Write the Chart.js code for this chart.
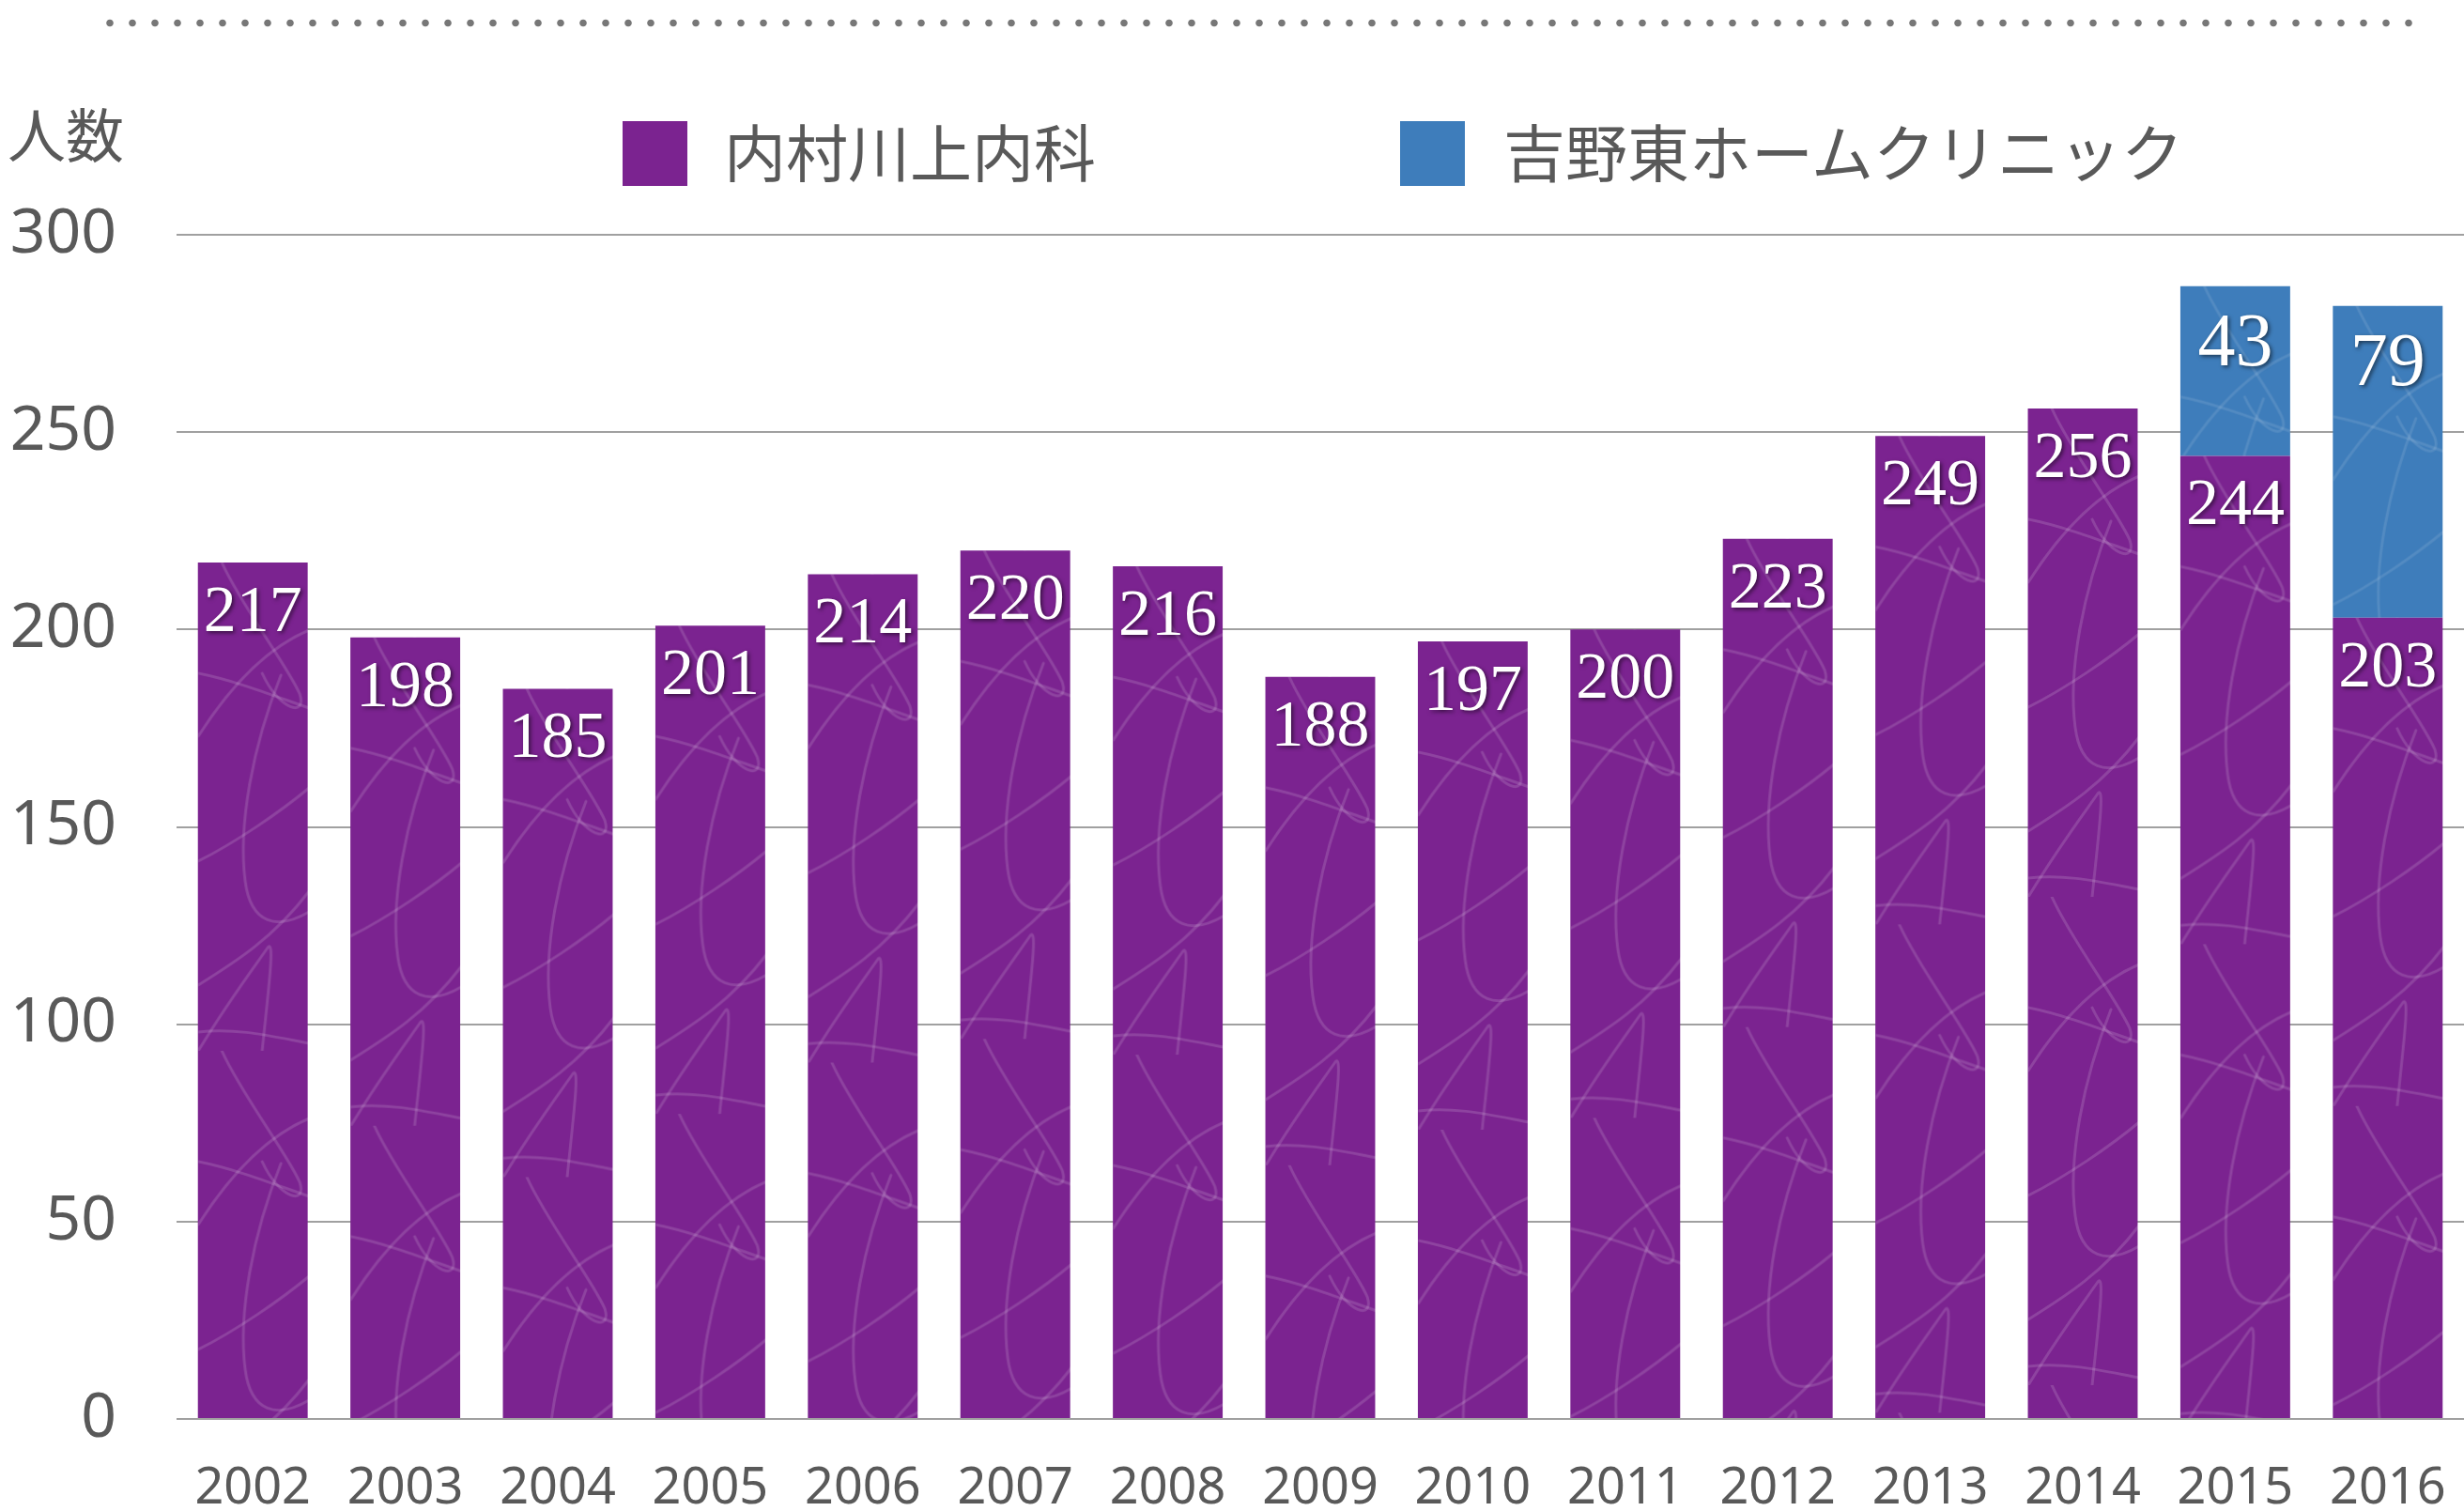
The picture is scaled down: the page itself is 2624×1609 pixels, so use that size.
<!DOCTYPE html>
<html>
<head>
<meta charset="utf-8">
<script src="https://cdn.jsdelivr.net/npm/chart.js@4.4.1/dist/chart.umd.min.js"></script>
<style>
  html, body { margin: 0; padding: 0; background: #fff; }
  #wrap { position: relative; width: 2624px; height: 1609px; }
  #chart { position: absolute; left: 0; top: 0; }
  .dots {
    position: absolute; left: 105px; top: 20px; width: 2472px; height: 9px;
    background-image: radial-gradient(circle, #777 3.3px, rgba(119,119,119,0) 4.2px);
    background-size: 24px 9px;
  }
  .unit {
    position: absolute; left: 8px; top: 96px; line-height: 1;
    font: 62px "Noto Sans CJK JP", sans-serif; color: #595959;
  }
  .leg { position: absolute; top: 129px; width: 69px; height: 69px; }
  .legText {
    position: absolute; top: 111px; line-height: 1;
    font: 66px "Noto Sans CJK JP", sans-serif; color: #595959;
  }
</style>
</head>
<body>
<div id="wrap">
  <div class="dots"></div>
  <div class="unit">人数</div>
  <div class="leg" style="left:663px;background:#7b2390"></div>
  <div class="legText" style="left:771px">内村川上内科</div>
  <div class="leg" style="left:1491px;background:#3e7dbb"></div>
  <div class="legText" style="left:1601px">吉野東ホームクリニック</div>
  <canvas id="chart" width="2624" height="1609"></canvas>
</div>
<script>
const years = ["2002", "2003", "2004", "2005", "2006", "2007", "2008", "2009",
  "2010", "2011", "2012", "2013", "2014", "2015", "2016"];
const uchimura = [217, 198, 185, 201, 214, 220, 216, 188, 197, 200, 223, 249, 256, 244, 203];
const yoshino = [null, null, null, null, null, null, null, null, null, null, null, null, null, 43, 79];
const seriesNames = ["内村川上内科", "吉野東ホームクリニック"];

const PURPLE = "#7b2390";
const BLUE = "#3e7dbb";
const TEXT = "#595959";

const canvas = document.getElementById("chart");
const ctx = canvas.getContext("2d");

// squiggle texture, one tile anchored to each bar's top-left corner
function makeTile(base, line) {
  const c = document.createElement("canvas");
  c.width = 162;
  c.height = 520;
  const g = c.getContext("2d");
  g.fillStyle = base;
  g.fillRect(0, 0, c.width, c.height);
  g.strokeStyle = line;
  g.lineWidth = 3;
  g.lineCap = "round";
  const curves = [
    // cross + pointed loop near the top
    [25, 0, 45, 45, 95, 110, 108, 140, 116, 165, 86, 158, 68, 118],
    [0, 185, 35, 130, 75, 90, 118, 72],
    [0, 118, 40, 126, 80, 142, 118, 155],
    // long stem with a rounded hook
    [88, 120, 58, 195, 42, 280, 50, 340, 56, 385, 84, 392, 118, 372],
    [0, 318, 40, 298, 88, 265, 118, 240],
    // lower crossing lines and pointed loop
    [0, 450, 40, 425, 80, 400, 118, 350],
    [0, 520, 30, 470, 60, 430, 74, 410, 82, 400, 74, 460, 68, 520],
    [0, 500, 40, 495, 80, 505, 118, 512],
  ];
  curves.forEach((p) => {
    g.beginPath();
    g.moveTo(p[0], p[1]);
    for (let i = 2; i < p.length; i += 6) {
      g.bezierCurveTo(p[i], p[i + 1], p[i + 2], p[i + 3], p[i + 4], p[i + 5]);
    }
    g.stroke();
  });
  return c;
}

const purpleTile = makeTile(PURPLE, "rgba(255,255,255,0.15)");
const blueTile = makeTile(BLUE, "rgba(255,255,255,0.11)");

function barFill(tile, base, stackTop) {
  return (c) => {
    const chart = c.chart;
    if (c.type !== "data" || !chart.chartArea || !chart.scales.x) return base;
    const i = c.dataIndex;
    const x = chart.scales.x.getPixelForValue(i) - 58;
    const y = chart.scales.y.getPixelForValue(stackTop(i));
    const pat = ctx.createPattern(tile, "repeat");
    pat.setTransform(new DOMMatrix([1, 0, 0, 1, x, y]));
    return pat;
  };
}

// white serif numbers inside the top of each segment
const valueLabels = {
  id: "valueLabels",
  afterDatasetsDraw(chart) {
    const c = chart.ctx;
    const styles = [
      { size: 70, offset: 73 },
      { size: 80, offset: 84 },
    ];
    chart.data.datasets.forEach((ds, di) => {
      const meta = chart.getDatasetMeta(di);
      meta.data.forEach((bar, i) => {
        const v = ds.data[i];
        if (v == null) return;
        c.save();
        c.font = styles[di].size + 'px "Liberation Serif", serif';
        c.fillStyle = "#fff";
        c.textAlign = "center";
        c.textBaseline = "alphabetic";
        c.shadowColor = "rgba(0,0,0,0.55)";
        c.shadowBlur = 4;
        c.shadowOffsetX = 2;
        c.shadowOffsetY = 2;
        c.fillText(String(v), bar.x, bar.y + styles[di].offset);
        c.restore();
      });
    });
  },
};

new Chart(ctx, {
  type: "bar",
  data: {
    labels: years,
    datasets: [
      {
        label: seriesNames[0],
        data: uchimura,
        backgroundColor: barFill(purpleTile, PURPLE, (i) => uchimura[i]),
        borderWidth: 0,
      },
      {
        label: seriesNames[1],
        data: yoshino,
        backgroundColor: barFill(blueTile, BLUE, (i) => uchimura[i] + (yoshino[i] || 0)),
        borderWidth: 0,
      },
    ],
  },
  options: {
    responsive: false,
    animation: false,
    devicePixelRatio: 1,
    layout: { padding: { top: 250, left: 0, right: 0, bottom: 0 } },
    datasets: {
      bar: { categoryPercentage: 1, barPercentage: 0.72 },
    },
    plugins: {
      legend: { display: false },
      tooltip: { enabled: false },
    },
    scales: {
      x: {
        stacked: true,
        grid: { display: false, drawTicks: false },
        border: { display: false },
        ticks: {
          color: TEXT,
          padding: 0,
          font: { family: "'Noto Sans', sans-serif", size: 54, lineHeight: "150px" },
          maxRotation: 0,
          autoSkip: false,
        },
        afterFit: (axis) => { axis.height = 98; },
      },
      y: {
        stacked: true,
        min: 0,
        max: 300,
        grid: { color: "#a0a0a0", lineWidth: 2, drawTicks: false },
        border: { display: false },
        ticks: {
          stepSize: 50,
          color: TEXT,
          padding: 64,
          font: { family: "'Noto Sans', sans-serif", size: 66, lineHeight: 1 },
        },
        afterFit: (axis) => { axis.width = 188; },
      },
    },
  },
  plugins: [valueLabels],
});
</script>
</body>
</html>
